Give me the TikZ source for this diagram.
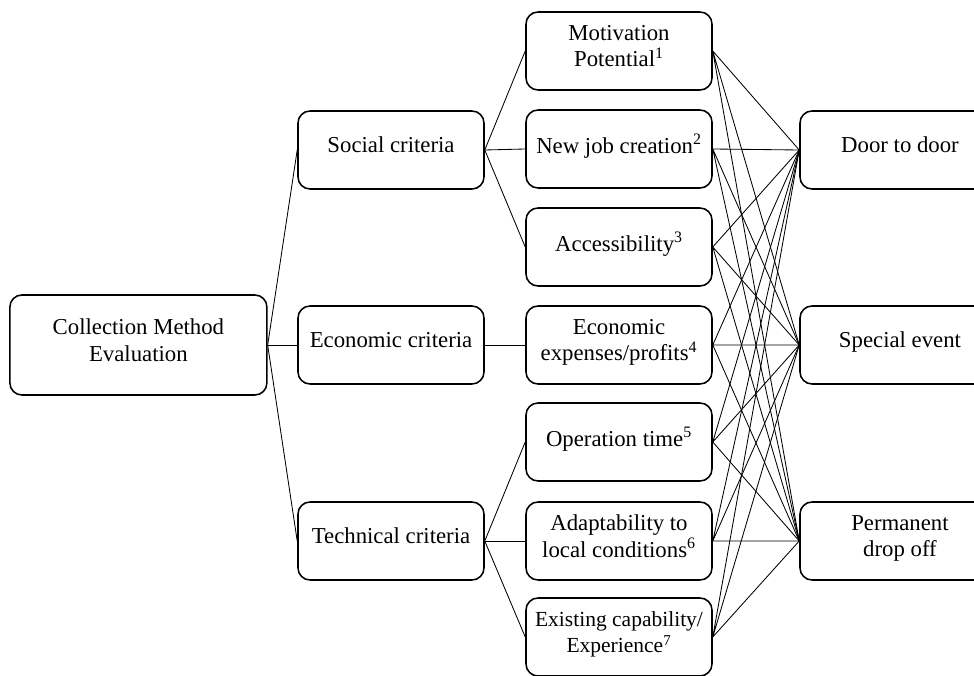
\documentclass[tikz,border=0pt]{standalone}
\usepackage{fontspec}
\setmainfont{Liberation Serif}
\usepackage{tikz}
\def \evaluationStr {Collection Method\\Evaluation}
\def \socialStr {Social criteria}
\def \economicStr {Economic criteria}
\def \technicalStr {Technical criteria}
\def \motivationStr {Motivation\\Potential\textsuperscript{1}}
\def \newJobStr {New job creation\textsuperscript{2}}
\def \accessibilityStr {Accessibility\textsuperscript{3}}
\def \expensesStr {Economic\\expenses/profits\textsuperscript{4}}
\def \operationStr {Operation time\textsuperscript{5}}
\def \adaptabilityStr {Adaptability to\\local conditions\textsuperscript{6}}
\def \experienceStr {Existing capability/\\Experience\textsuperscript{7}}
\def \doorStr {Door to door}
\def \eventStr {Special event}
\def \dropOffStr {Permanent\\drop off}
\def \boxWidth {4.65cm}
\def \boxHeight {1.95cm}

\begin{document}
\begin{tikzpicture}

\useasboundingbox (0,0) rectangle (24.35,-16.9);
\clip (0,0) rectangle (24.35,-16.9);

\begin{scope}[
  mybox/.style={draw=black, line width=1.1pt, rounded corners=0.3cm,
    align=center, minimum width=\boxWidth, minimum height=\boxHeight,
    text depth=0.25cm, font=\fontsize{16.2}{19}\selectfont},
  myline/.style={draw=black, line width=0.6pt}]

% root
\node[mybox, minimum width=6.425cm, minimum height=2.5cm] (eval) at (3.46,-8.625) {\evaluationStr};

% criteria
\node[mybox] (social) at (9.775,-3.75) {\socialStr};
\node[mybox] (economic) at (9.775,-8.625) {\economicStr};
\node[mybox] (technical) at (9.775,-13.525) {\technicalStr};

% sub criteria
\node[mybox] (motivation) at (15.475,-1.275) {\motivationStr};
\node[mybox] (newjob) at (15.475,-3.725) {\newJobStr};
\node[mybox] (access) at (15.475,-6.175) {\accessibilityStr};
\node[mybox] (expenses) at (15.475,-8.625) {\expensesStr};
\node[mybox] (operation) at (15.475,-11.05) {\operationStr};
\node[mybox] (adapt) at (15.475,-13.525) {\adaptabilityStr};
\node[mybox, font=\fontsize{15.3}{18.5}\selectfont] (experience) at (15.475,-15.925) {\experienceStr};

% collection methods
\node[mybox, minimum width=5cm] (door) at (22.5,-3.75) {\doorStr};
\node[mybox, minimum width=5cm] (event) at (22.5,-8.625) {\eventStr};
\node[mybox, minimum width=5cm] (dropoff) at (22.5,-13.525) {\dropOffStr};

% root to criteria
\draw[myline] (eval.east) -- (social.west);
\draw[myline] (eval.east) -- (economic.west);
\draw[myline] (eval.east) -- (technical.west);

% criteria to sub criteria
\draw[myline] (social.east) -- (motivation.west);
\draw[myline] (social.east) -- (newjob.west);
\draw[myline] (social.east) -- (access.west);
\draw[myline] (economic.east) -- (expenses.west);
\draw[myline] (technical.east) -- (operation.west);
\draw[myline] (technical.east) -- (adapt.west);
\draw[myline] (technical.east) -- (experience.west);

% sub criteria to methods
\draw[myline] (motivation.east) -- (door.west) (motivation.east) -- (event.west) (motivation.east) -- (dropoff.west);
\draw[myline] (newjob.east) -- (door.west) (newjob.east) -- (event.west) (newjob.east) -- (dropoff.west);
\draw[myline] (access.east) -- (door.west) (access.east) -- (event.west) (access.east) -- (dropoff.west);
\draw[myline] (expenses.east) -- (door.west) (expenses.east) -- (event.west) (expenses.east) -- (dropoff.west);
\draw[myline] (operation.east) -- (door.west) (operation.east) -- (event.west) (operation.east) -- (dropoff.west);
\draw[myline] (adapt.east) -- (door.west) (adapt.east) -- (event.west) (adapt.east) -- (dropoff.west);
\draw[myline] (experience.east) -- (door.west) (experience.east) -- (event.west) (experience.east) -- (dropoff.west);

\end{scope}
\end{tikzpicture}
\end{document}
